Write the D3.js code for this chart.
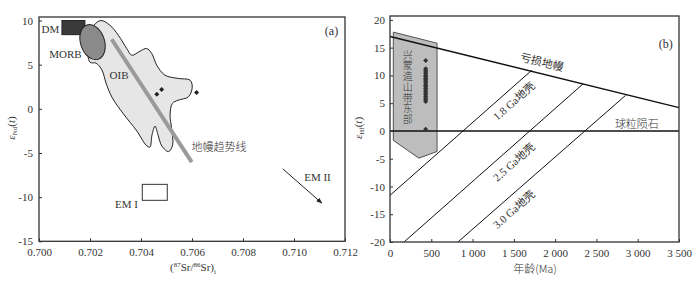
<!DOCTYPE html>
<html lang="zh">
<head>
<meta charset="UTF-8">
<title>Sr-Nd and Hf isotopes</title>
<script src="https://cdnjs.cloudflare.com/ajax/libs/d3/7.8.5/d3.min.js"></script>
<style>
  body { margin: 0; background: #fff; }
  text { font-family: "Liberation Serif", "DejaVu Serif", serif; fill: #333; }
  .cjk { font-family: "Noto Sans CJK SC", sans-serif; font-weight: 300; }
</style>
</head>
<body>
<svg id="chart" width="699" height="284"></svg>
<script>
// ---- panel (a): (87Sr/86Sr)i vs eNd(t) ----
var srTicks = [0.700, 0.702, 0.704, 0.706, 0.708, 0.710, 0.712];
var ndTicks = [-15, -10, -5, 0, 5, 10];

var dmBox = [[0.7009, 8.4], [0.7018, 10.0]];
var morb = { sr: 0.7021, nd: 7.55, rsr: 0.00047, rnd: 2.05 };
var emOneBox = [[0.70405, -8.55], [0.70503, -10.36]];
var oibField = [
  [0.70243, 10.0], [0.70278, 9.47], [0.70311, 8.34], [0.70344, 6.83], [0.70364, 6.07],
  [0.70396, 6.53], [0.70422, 6.83], [0.70442, 6.27], [0.70462, 4.94], [0.70494, 3.81],
  [0.70546, 3.44], [0.70592, 3.25], [0.70601, 2.49], [0.70586, 1.36], [0.70546, 0.98],
  [0.70523, 0.61], [0.70514, -0.71], [0.7052, -2.22], [0.70524, -4.11], [0.70508, -4.84],
  [0.70482, -4.22], [0.70467, -2.98], [0.70455, -1.96], [0.70443, -2.98], [0.70435, -4.33],
  [0.7042, -4.11], [0.70384, -2.52], [0.70329, -0.49], [0.70286, 1.32], [0.70263, 2.91],
  [0.70247, 4.38], [0.70224, 5.17], [0.702, 5.28], [0.70192, 7.21], [0.70216, 9.47]
];
var mantleTrend = [[0.70285, 7.88], [0.70599, -6.03]];
var emTwoArrow = [[0.70956, -6.79], [0.71109, -10.67]];
var samplesSr = [0.70462, 0.70481, 0.70618];
var samplesNd = [1.66, 2.19, 1.85];

// ---- panel (b): age vs eHf(t) ----
var ageTicks = [0, 500, 1000, 1500, 2000, 2500, 3000, 3500];
var hfTicks = [-20, -15, -10, -5, 0, 5, 10, 15, 20];
var depletedMantle = [[0, 17.0], [3500, 4.2]];
var chondrite = [[0, 0], [3500, 0]];
var crust18 = [[0, -11.6], [1715, 10.9]];
var crust25 = [[170, -20], [2340, 8.5]];
var crust30 = [[823, -20], [2853, 6.4]];
var xingmengField = [[40, 17.8], [570, 15.8], [570, -3.7], [350, -4.9], [40, -1.7]];
var zirconAge = 432;
var zirconHf = [12.7, 11.2, 10.9, 10.6, 10.3, 10.0, 9.8, 9.5, 9.3, 9.0, 8.8, 8.5,
  8.2, 8.0, 7.7, 7.4, 7.1, 6.8, 6.5, 6.2, 5.9, 5.6, 5.3, 0.3];
var fieldName = "兴蒙造山带东部";

var svg = d3.select("#chart");
var ink = "#333";

function frame(g, x, y) {
  g.append("rect")
    .attr("x", x.range()[0]).attr("y", y.range()[1])
    .attr("width", x.range()[1] - x.range()[0])
    .attr("height", y.range()[0] - y.range()[1])
    .attr("fill", "none").attr("stroke", ink).attr("stroke-width", 1.3);
}

function axes(g, x, y, xFmt, yFmt, xTicks, yTicks, yPad) {
  var ax = g.append("g")
    .attr("transform", "translate(0," + y.range()[0] + ")")
    .call(d3.axisBottom(x).tickValues(xTicks).tickFormat(xFmt)
      .tickSizeInner(-3).tickSizeOuter(0).tickPadding(7));
  var ay = g.append("g")
    .attr("transform", "translate(" + x.range()[0] + ",0)")
    .call(d3.axisLeft(y).tickValues(yTicks).tickFormat(yFmt)
      .tickSizeInner(-3).tickSizeOuter(0).tickPadding(yPad));
  [ax, ay].forEach(function (a) {
    a.select(".domain").remove();
    a.selectAll(".tick line").attr("stroke", ink);
    a.selectAll("text").attr("font-size", 11).attr("fill", ink)
      .attr("font-family", "Liberation Serif, serif");
  });
}

// ================= panel (a) =================
var xa = d3.scaleLinear().domain([0.700, 0.712]).range([39, 345]);
var ya = d3.scaleLinear().domain([-15, 10.4]).range([241.3, 17]);
var ga = svg.append("g");

ga.append("path")
  .attr("d", d3.line().x(d => xa(d[0])).y(d => ya(d[1]))
    .curve(d3.curveCatmullRomClosed.alpha(0.5))(oibField))
  .attr("fill", "#e6e6e6").attr("stroke", "#222").attr("stroke-width", 1);

ga.append("rect")
  .attr("x", xa(dmBox[0][0])).attr("y", ya(dmBox[1][1]))
  .attr("width", xa(dmBox[1][0]) - xa(dmBox[0][0]))
  .attr("height", ya(dmBox[0][1]) - ya(dmBox[1][1]))
  .attr("fill", "#3a3a3a").attr("stroke", "#222");

ga.append("ellipse")
  .attr("cx", xa(morb.sr)).attr("cy", ya(morb.nd))
  .attr("rx", xa(morb.sr + morb.rsr) - xa(morb.sr))
  .attr("ry", ya(morb.nd - morb.rnd) - ya(morb.nd))
  .attr("transform", "rotate(-18," + xa(morb.sr) + "," + ya(morb.nd) + ")")
  .attr("fill", "#8a8a8a").attr("stroke", "#222").attr("stroke-width", 1);

ga.append("line")
  .attr("x1", xa(mantleTrend[0][0])).attr("y1", ya(mantleTrend[0][1]))
  .attr("x2", xa(mantleTrend[1][0])).attr("y2", ya(mantleTrend[1][1]))
  .attr("stroke", "#9a9a9a").attr("stroke-width", 4);

ga.append("rect")
  .attr("x", xa(emOneBox[0][0])).attr("y", ya(emOneBox[0][1]))
  .attr("width", xa(emOneBox[1][0]) - xa(emOneBox[0][0]))
  .attr("height", ya(emOneBox[1][1]) - ya(emOneBox[0][1]))
  .attr("fill", "#fff").attr("stroke", "#333").attr("stroke-width", 1);

svg.append("defs").append("marker")
  .attr("id", "arrow").attr("viewBox", "0 0 10 10").attr("refX", 9).attr("refY", 5)
  .attr("markerWidth", 6).attr("markerHeight", 6).attr("orient", "auto")
  .append("path").attr("d", "M0,1 L10,5 L0,9 Z").attr("fill", "#222");

ga.append("line")
  .attr("x1", xa(emTwoArrow[0][0])).attr("y1", ya(emTwoArrow[0][1]))
  .attr("x2", xa(emTwoArrow[1][0])).attr("y2", ya(emTwoArrow[1][1]))
  .attr("stroke", "#222").attr("stroke-width", 1).attr("marker-end", "url(#arrow)");

ga.selectAll(".smp").data(samplesSr).enter().append("path")
  .attr("d", d3.symbol().type(d3.symbolDiamond2).size(16))
  .attr("transform", (d, i) => "translate(" + xa(d) + "," + ya(samplesNd[i]) + ")")
  .attr("fill", "#222");

frame(ga, xa, ya);
axes(ga, xa, ya, d3.format(".3f"), d => String(d), srTicks, ndTicks, 6);

function label(g, x, y, txt, size, cls) {
  return g.append("text").attr("x", x).attr("y", y)
    .attr("text-anchor", "middle").attr("dominant-baseline", "central")
    .attr("font-size", size).attr("class", cls || null).text(txt);
}
label(ga, xa(0.70045), ya(9.02), "DM", 11);
label(ga, xa(0.70104), ya(6.19), "MORB", 11);
label(ga, xa(0.70314), ya(3.81), "OIB", 11);
label(ga, xa(0.70706), ya(-4.22), "地幔趋势线", 11, "cjk");
label(ga, xa(0.70343), ya(-10.78), "EM I", 11);
label(ga, xa(0.71092), ya(-7.73), "EM II", 11);
label(ga, xa(0.71147), ya(8.79), "(a)", 12);

// axis titles (a)
var tx = ga.append("text").attr("x", 193).attr("y", 271)
  .attr("text-anchor", "middle").attr("font-size", 11);
tx.append("tspan").text("(");
tx.append("tspan").attr("font-size", 7).attr("dy", -4).text("87");
tx.append("tspan").attr("dy", 4).text("Sr/");
tx.append("tspan").attr("font-size", 7).attr("dy", -4).text("86");
tx.append("tspan").attr("dy", 4).text("Sr)");
tx.append("tspan").attr("font-size", 7).attr("dy", 3).text("i");

function epsLabel(g, cx, cy, sub) {
  var t = g.append("text").attr("transform", "translate(" + cx + "," + cy + ") rotate(-90)")
    .attr("text-anchor", "middle").attr("font-size", 11);
  t.append("tspan").attr("font-style", "italic").text("ε");
  t.append("tspan").attr("font-size", 7).attr("dy", 2).text(sub);
  t.append("tspan").attr("dy", -2).text("(");
  t.append("tspan").attr("font-style", "italic").text("t");
  t.append("tspan").text(")");
}
epsLabel(ga, 15, 128, "Nd");

// ================= panel (b) =================
var xb = d3.scaleLinear().domain([0, 3500]).range([390, 679]);
var yb = d3.scaleLinear().domain([-20, 20.7]).range([242, 16]);
var gb = svg.append("g");
var lineB = d3.line().x(d => xb(d[0])).y(d => yb(d[1]));

gb.append("path").attr("d", lineB(xingmengField) + "Z")
  .attr("fill", "#bdbdbd").attr("stroke", "#444").attr("stroke-width", 0.9);

[[crust18, 1], [crust25, 1], [crust30, 1], [depletedMantle, 1.5], [chondrite, 1.5]]
  .forEach(function (p) {
    gb.append("path").attr("d", lineB(p[0]))
      .attr("fill", "none").attr("stroke", "#111").attr("stroke-width", p[1]);
  });

gb.selectAll(".zr").data(zirconHf).enter().append("path")
  .attr("d", d3.symbol().type(d3.symbolDiamond2).size(16))
  .attr("transform", d => "translate(" + xb(zirconAge) + "," + yb(d) + ")")
  .attr("fill", "#333");

frame(gb, xb, yb);
var spaceFmt = d => d >= 1000 ? d3.format(",")(d).replace(",", " ") : String(d);
axes(gb, xb, yb, spaceFmt, d => String(d), ageTicks, hfTicks, 5);

function angleOf(seg) {
  var dx = xb(seg[1][0]) - xb(seg[0][0]);
  var dy = yb(seg[1][1]) - yb(seg[0][1]);
  return Math.atan2(dy, dx) * 180 / Math.PI;
}
function slanted(seg, at, txt) {
  gb.append("text")
    .attr("transform", "translate(" + xb(at[0]) + "," + yb(at[1]) + ") rotate(" + angleOf(seg) + ")")
    .attr("text-anchor", "middle").attr("dominant-baseline", "central")
    .attr("font-size", 11).attr("class", "cjk-mix").text(txt);
}
slanted(depletedMantle, [1840, 12.4], "亏损地幔");
slanted(crust18, [1500, 5.4], "1.8 Ga地壳");
slanted(crust25, [1500, -5.6], "2.5 Ga地壳");
slanted(crust30, [1500, -14.1], "3.0 Ga地壳");
gb.selectAll(".cjk-mix").style("font-family", "'Liberation Serif', 'Noto Sans CJK SC', serif");
label(gb, xb(2990), yb(1.44), "球粒陨石", 11, "cjk");
label(gb, xb(3340), yb(15.7), "(b)", 12);

// vertical field name, written top to bottom as one text
gb.append("text")
  .attr("class", "cjk")
  .attr("x", xb(215)).attr("y", 50)
  .style("writing-mode", "vertical-rl")
  .attr("font-size", 10).attr("letter-spacing", 0.7)
  .text(fieldName);

label(gb, 535, 268, "年龄(Ma)", 11, "cjk");
epsLabel(gb, 362, 128, "Hf");
</script>
</body>
</html>
